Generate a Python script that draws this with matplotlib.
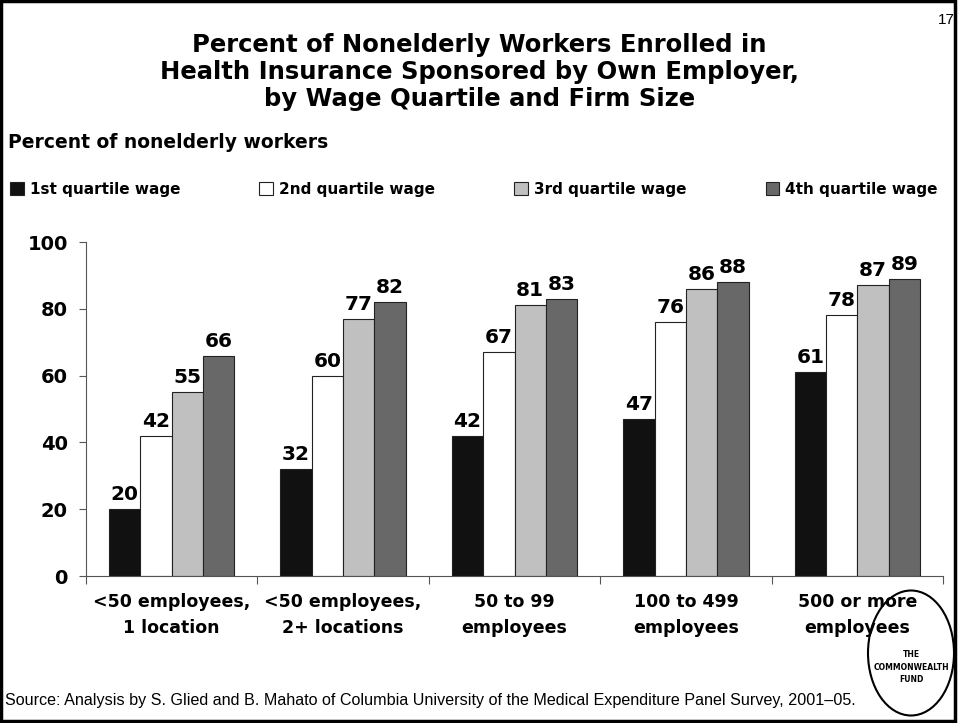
import numpy as np
import matplotlib
matplotlib.use("Agg")
import matplotlib.pyplot as plt
from matplotlib.patches import Patch, Rectangle, Ellipse

categories = ["<50 employees,\n1 location", "<50 employees,\n2+ locations",
              "50 to 99\nemployees", "100 to 499\nemployees", "500 or more\nemployees"]
series_names = ["1st quartile wage", "2nd quartile wage", "3rd quartile wage", "4th quartile wage"]
q1 = [20, 32, 42, 47, 61]
q2 = [42, 60, 67, 76, 78]
q3 = [55, 77, 81, 86, 87]
q4 = [66, 82, 83, 88, 89]
colors = ["#111111", "#FFFFFF", "#C0C0C0", "#686868"]
yticks = [0, 20, 40, 60, 80, 100]

plt.rcParams['font.family'] = 'DejaVu Sans'
fig = plt.figure(figsize=(9.59, 7.23), dpi=100)
ax = fig.add_axes([86/959, 1-576/723, (943-86)/959, (576-242)/723])

x = np.arange(len(categories)) + 0.5
w = 0.183
for i, vals in enumerate([q1, q2, q3, q4]):
    pos = x + (i - 1.5) * w
    ax.bar(pos, vals, width=w, color=colors[i], edgecolor="#222222", linewidth=0.8, zorder=2)
    for p, v in zip(pos, vals):
        ax.text(p, v + 1.5, str(v), ha="center", va="bottom", fontsize=14.5, fontweight="bold")

ax.set_xlim(0, len(categories))
ax.set_ylim(0, 100)
ax.set_yticks(yticks)
ax.set_yticklabels([str(t) for t in yticks], fontsize=14, fontweight="bold")
ax.set_xticks(np.arange(len(categories) + 1))
ax.set_xticklabels([])
ax.set_xticks(x, minor=True)
ax.set_xticklabels(categories, minor=True, fontsize=12.5, fontweight="bold", linespacing=1.6)
ax.tick_params(axis="x", which="minor", length=0, pad=12)
ax.tick_params(axis="x", which="major", length=6, color="#555555", direction="out")
ax.tick_params(axis="y", length=5, color="#555555", direction="out", pad=8)
for s in ["top", "right"]:
    ax.spines[s].set_visible(False)
for s in ["left", "bottom"]:
    ax.spines[s].set_color("#555555")

fig.text(0.5, 1-45/723, "Percent of Nonelderly Workers Enrolled in", ha="center", va="center",
         fontsize=17.5, fontweight="bold")
fig.text(0.5, 1-72/723, "Health Insurance Sponsored by Own Employer,", ha="center", va="center",
         fontsize=17.5, fontweight="bold")
fig.text(0.5, 1-99/723, "by Wage Quartile and Firm Size", ha="center", va="center",
         fontsize=17.5, fontweight="bold")
fig.text(8/959, 1-142/723, "Percent of nonelderly workers", ha="left", va="center",
         fontsize=13.5, fontweight="bold")
fig.text(955/959, 1-20/723, "17", ha="right", va="center", fontsize=11, family="Liberation Sans")

handles = [Patch(facecolor=c, edgecolor="#222222", linewidth=0.8) for c in colors]
fig.legend(handles, series_names, loc="lower left", ncol=4, mode="expand",
           bbox_to_anchor=(4/959, 1-203/723, 940/959, 0.03), frameon=False,
           prop={"weight": "bold", "size": 11}, handlelength=0.9, handleheight=0.9,
           handletextpad=0.4, borderaxespad=0)

fig.text(5/959, 1-700/723, "Source: Analysis by S. Glied and B. Mahato of Columbia University of the "
         "Medical Expenditure Panel Survey, 2001\u201305.", ha="left", va="center",
         fontsize=11.6, family="Liberation Sans")

# logo
fig.patches.append(Ellipse((911/959, 1-653/723), 86/959, 125/723, transform=fig.transFigure,
                           facecolor="none", edgecolor="black", linewidth=1.5))
fig.text(911/959, 1-667/723, "THE\nCOMMONWEALTH\nFUND", ha="center", va="center",
         fontsize=5.5, fontweight="bold", linespacing=1.5)

fig.patches.append(Rectangle((0.001, 0.003), 0.995, 0.995, transform=fig.transFigure,
                             facecolor="none", edgecolor="black", linewidth=2.5))

fig.savefig("out.png", dpi=100)
